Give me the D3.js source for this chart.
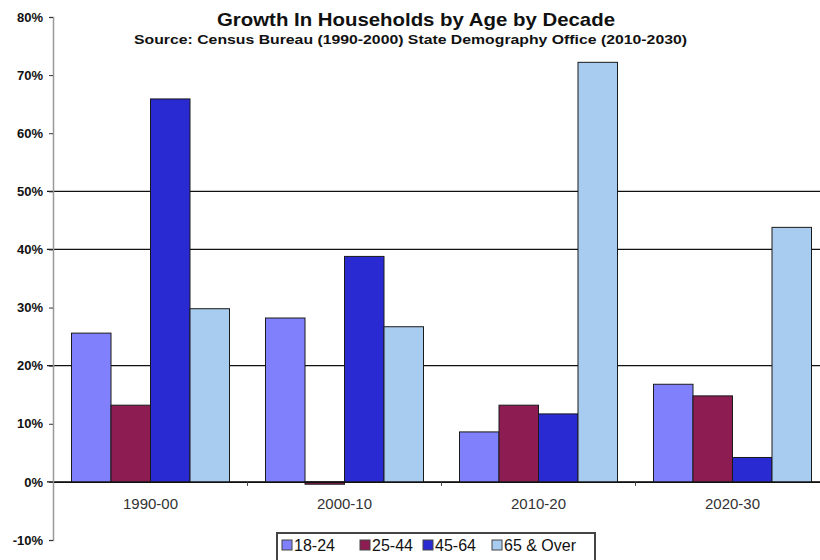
<!DOCTYPE html>
<html><head><meta charset="utf-8">
<script src="https://cdn.jsdelivr.net/npm/d3@7"></script>
<style>body{margin:0;background:#fff}svg{display:block;font-family:"Liberation Sans",Arial,sans-serif}</style>
</head><body>
<svg id="c" width="820" height="560"></svg>
<script>
const categories = ["1990-00", "2000-10", "2010-20", "2020-30"];
const seriesNames = ["18-24", "25-44", "45-64", "65 & Over"];
const s1824 = [25.6, 28.2, 8.6, 16.8];
const s2544 = [13.2, -0.4, 13.2, 14.8];
const s4564 = [65.9, 38.8, 11.7, 4.2];
const s65 = [29.8, 26.7, 72.2, 43.8];
const yTicks = [-10, 0, 10, 20, 30, 40, 50, 60, 70, 80];
const gridValues = [0, 20, 40, 50];
const colors = ["#8080fc", "#8c1c52", "#2a2ad2", "#a8cbf0"];
const title = "Growth In Households by Age by Decade";
const subtitle = "Source: Census Bureau (1990-2000) State Demography Office (2010-2030)";

const seriesVals = [s1824, s2544, s4564, s65];
const svg = d3.select("#c");

const y = d3.scaleLinear().domain([-10, 80]).range([540, 17]);
const x0 = d3.scaleBand().domain(categories).range([53.5, 829.5]).paddingInner(0.1856).paddingOuter(0.0928);
const x1 = d3.scaleBand().domain(seriesNames).range([0, x0.bandwidth()]);

// gridlines
svg.append("g").selectAll("line").data(gridValues).join("line")
  .attr("x1", 47).attr("x2", 820)
  .attr("y1", d => y(d)).attr("y2", d => y(d))
  .attr("stroke", "#111").attr("stroke-width", 1.2);

// y axis
const yAxis = d3.axisLeft(y).tickValues(yTicks).tickFormat(d => d + "%").tickSize(4).tickPadding(6);
const ga = svg.append("g").attr("transform", "translate(53,0)").call(yAxis);
ga.select(".domain").attr("stroke", "#999").attr("stroke-width", 1.5);
ga.selectAll(".tick line").attr("stroke", "#333");
ga.selectAll(".tick text").attr("font-weight", "bold").attr("fill", "#111")
  .attr("font-family", "'Liberation Sans',Arial,sans-serif").style("font-size", "13px");

// bars
const rows = categories.map((c, i) => ({ cat: c, vals: seriesNames.map((s, j) => ({ s, j, v: seriesVals[j][i] })) }));
const g = svg.append("g").selectAll("g").data(rows).join("g")
  .attr("transform", d => `translate(${x0(d.cat)},0)`);
g.selectAll("rect").data(d => d.vals).join("rect")
  .attr("x", d => x1(d.s))
  .attr("width", x1.bandwidth())
  .attr("y", d => y(Math.max(0, d.v)))
  .attr("height", d => Math.abs(y(d.v) - y(0)))
  .attr("fill", d => colors[d.j])
  .attr("stroke", "#1a1a1a").attr("stroke-width", 1);

// x axis baseline and ticks
const xAxis = d3.axisBottom(x0).tickSize(0).tickPadding(16);
const gx = svg.append("g").attr("transform", `translate(0,${y(0)})`).call(xAxis);
gx.select(".domain").attr("stroke", "#111").attr("stroke-width", 1.2);
gx.selectAll(".tick text").attr("font-size", 15).attr("fill", "#333").attr("font-family", "'Liberation Sans',Arial,sans-serif");
svg.append("g").selectAll("line").data(categories.slice(1)).join("line")
  .attr("x1", d => x0(d) - (x0.step() - x0.bandwidth()) / 2)
  .attr("x2", d => x0(d) - (x0.step() - x0.bandwidth()) / 2)
  .attr("y1", y(0)).attr("y2", y(0) + 4).attr("stroke", "#444");

// titles
svg.append("text").attr("x", 217).attr("y", 26).attr("font-size", 19).attr("font-weight", "bold")
  .attr("fill", "#111").attr("textLength", 398).attr("lengthAdjust", "spacingAndGlyphs").text(title);
svg.append("text").attr("x", 134).attr("y", 44).attr("font-size", 13).attr("font-weight", "bold")
  .attr("fill", "#111").attr("textLength", 553).attr("lengthAdjust", "spacingAndGlyphs").text(subtitle);

// legend
const lg = svg.append("g");
lg.append("rect").attr("x", 277).attr("y", 533).attr("width", 318).attr("height", 40)
  .attr("fill", "#fff").attr("stroke", "#444").attr("stroke-width", 2);
const legX = [282, 360, 423, 492];
const li = lg.selectAll("g").data(seriesNames).join("g")
  .attr("transform", (d, i) => `translate(${legX[i]},540)`);
li.append("rect").attr("width", 10).attr("height", 10)
  .attr("fill", (d, i) => colors[i]).attr("stroke", "#444").attr("stroke-width", 1);
li.append("text").attr("x", 12).attr("y", 11).attr("font-size", 16).attr("fill", "#111").text(d => d);
</script>
</body></html>
